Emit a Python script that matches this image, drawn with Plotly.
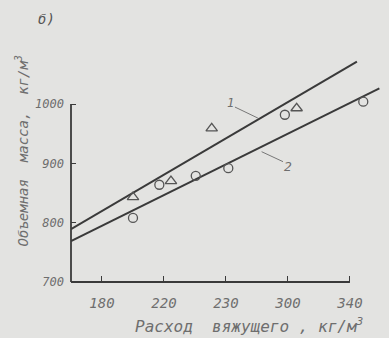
import plotly.graph_objects as go

# Data
circle_x = [200, 217, 240.5, 261.5, 298, 348.6]
circle_y = [808, 864, 879, 892, 982, 1004]
tri_x = [200, 224.5, 250.8, 305.6]
tri_y = [843, 870, 959, 993]
line1_x = [160, 344.5]
line1_y = [789, 1071.5]
line2_x = [160, 359]
line2_y = [769, 1026.6]
x_tickvals = [180, 220, 260, 300, 340]
x_ticktext = ["180", "220", "230", "300", "340"]
y_tickvals = [700, 800, 900, 1000]
y_ticktext = ["700", "800", "900", "1000"]

ink = "#3a3a3a"
txt = "#6e6e6e"
bg = "#e3e3e1"
fam = "DejaVu Sans Mono, Liberation Mono, monospace"

xr = [160, 365.2]
yr = [700, 1175.5]

def px(v):
    return (v - xr[0]) / (xr[1] - xr[0])

def py(v):
    return (v - yr[0]) / (yr[1] - yr[0])

fig = go.Figure()
fig.add_trace(go.Scatter(x=line1_x, y=line1_y, mode="lines",
                         line=dict(color=ink, width=2), hoverinfo="skip"))
fig.add_trace(go.Scatter(x=line2_x, y=line2_y, mode="lines",
                         line=dict(color=ink, width=2), hoverinfo="skip"))
fig.add_trace(go.Scatter(x=circle_x, y=circle_y, mode="markers",
                         marker=dict(symbol="circle-open", size=9, color="#555",
                                     line=dict(width=1.3))))
fig.add_trace(go.Scatter(x=tri_x, y=tri_y, mode="markers",
                         marker=dict(symbol="triangle-up-open", size=10, color="#555",
                                     line=dict(width=1.3))))

# axis lines (only from 160..340 and 700..1000), paper-referenced so not clipped
fig.add_shape(type="line", x0=px(x_tickvals[0] - 20), x1=px(x_tickvals[-1]),
              y0=0, y1=0, xref="paper", yref="paper",
              line=dict(color=ink, width=1.8))
fig.add_shape(type="line", x0=0, x1=0, y0=0, y1=py(y_tickvals[-1]),
              xref="paper", yref="paper", line=dict(color=ink, width=1.8))
# leader lines for labels
fig.add_shape(type="line", x0=265.8, y0=995, x1=280.6, y1=976.4, xref="x", yref="y",
              line=dict(color="#777", width=1))
fig.add_shape(type="line", x0=283, y0=919.7, x1=296.8, y1=902.9, xref="x", yref="y",
              line=dict(color="#777", width=1))

fig.add_annotation(x=262.6, y=1002, text="1", showarrow=False, xref="x", yref="y",
                   font=dict(family=fam, size=12, color=txt, style="italic"))
fig.add_annotation(x=300, y=894, text="2", showarrow=False, xref="x", yref="y",
                   font=dict(family=fam, size=13, color=txt, style="italic"))
fig.add_annotation(x=-0.11, y=0.968, xref="paper", yref="paper", text="б)",
                   showarrow=False, font=dict(family=fam, size=14, color="#555", style="italic"))
fig.add_annotation(x=0.56, y=-0.2, xref="paper", yref="paper",
                   text="Расход  вяжущего , кг/м<sup>3</sup>", showarrow=False,
                   font=dict(family=fam, size=16, color=txt, style="italic"))
fig.add_annotation(x=-0.19, y=0.465, xref="paper", yref="paper", textangle=-90,
                   text="Объемная  масса,  кг/м<sup>3</sup>", showarrow=False,
                   font=dict(family=fam, size=14, color=txt, style="italic"))

fig.update_layout(
    width=389, height=338,
    margin=dict(l=71, r=0, t=0, b=56),
    paper_bgcolor=bg, plot_bgcolor=bg,
    showlegend=False,
    xaxis=dict(range=xr, showgrid=False, zeroline=False, showline=False,
               tickvals=x_tickvals, ticktext=x_ticktext, ticks="inside", ticklen=6,
               tickcolor=ink, tickwidth=1.2, ticklabelstandoff=11,
               tickfont=dict(family=fam, size=14, color=txt, style="italic")),
    yaxis=dict(range=yr, showgrid=False, zeroline=False, showline=False,
               tickvals=y_tickvals, ticktext=y_ticktext, ticks="inside", ticklen=5,
               tickcolor=ink, tickwidth=1.2, ticklabelstandoff=6,
               tickfont=dict(family=fam, size=12, color=txt, style="italic")),
)
fig.write_html("out.html", config={"displayModeBar": False},
               post_script="document.body.style.margin='0';document.body.style.background='%s';" % bg)
